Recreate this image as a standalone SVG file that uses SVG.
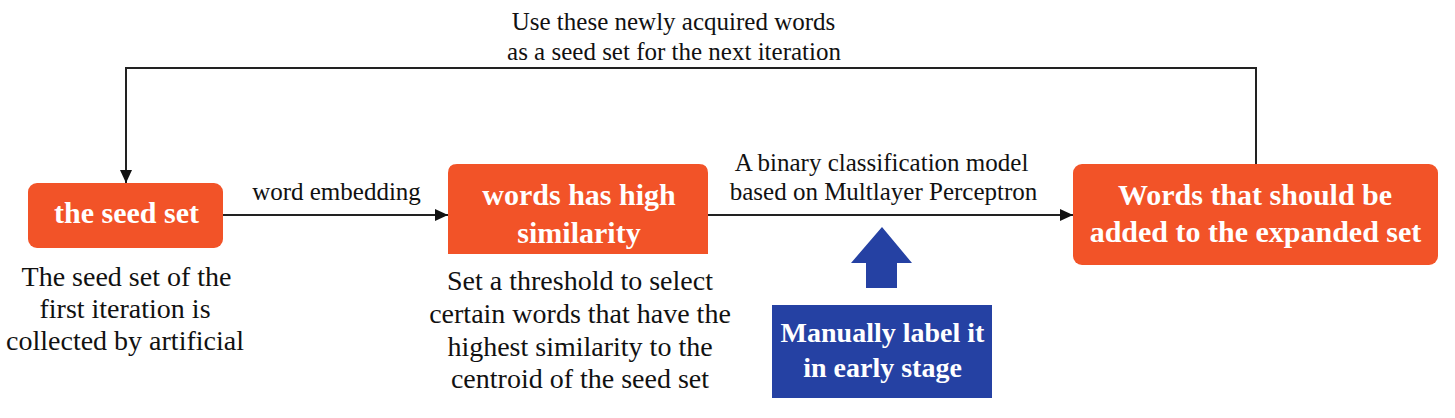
<svg xmlns="http://www.w3.org/2000/svg" width="1455" height="418" viewBox="0 0 1455 418">
<style>
.box{fill:#F25328}
.ln{fill:none;stroke:#222;stroke-width:2}
</style>
<defs>
<marker id="ah" markerWidth="13" markerHeight="12" refX="13" refY="6" orient="auto" markerUnits="userSpaceOnUse">
<path d="M0,0 L13,6 L0,12 Z" fill="#111"/>
</marker>
</defs>
<g id="connectors">
<path class="ln" d="M1256,164 V68 H126 V183" marker-end="url(#ah)"/>
<path class="ln" d="M223,215 H448" marker-end="url(#ah)"/>
<path class="ln" d="M708,215 H1073" marker-end="url(#ah)"/>
<g font-family="Liberation Serif, serif" fill="#111" text-anchor="middle" font-size="25">
<text x="673.5" y="30">Use these newly acquired words</text>
<text x="674" y="60">as a seed set for the next iteration</text>
<text x="336.5" y="200">word embedding</text>
<text x="881.5" y="171">A binary classification model</text>
<text x="883.5" y="200">based on Multlayer Perceptron</text>
</g>
</g>
<g id="seed">
<rect class="box" x="28" y="183" width="195" height="65" rx="9"/>
<text x="126.5" y="223" font-family="Liberation Serif, serif" font-weight="bold" fill="#fff" text-anchor="middle" font-size="30">the seed set</text>
<g font-family="Liberation Serif, serif" fill="#111" text-anchor="middle" font-size="28">
<text x="126.5" y="286">The seed set of the</text>
<text x="125" y="318">first iteration is</text>
<text x="125" y="350">collected by artificial</text>
</g>
</g>
<g id="similar">
<path class="box" d="M448,254 V173 Q448,164 457,164 H699 Q708,164 708,173 V254 Z"/>
<g font-family="Liberation Serif, serif" font-weight="bold" fill="#fff" text-anchor="middle" font-size="30">
<text x="579" y="205">words has high</text>
<text x="579" y="243">similarity</text>
</g>
<g font-family="Liberation Serif, serif" fill="#111" text-anchor="middle" font-size="28">
<text x="580" y="290">Set a threshold to select</text>
<text x="580" y="323">certain words that have the</text>
<text x="580" y="356">highest similarity to the</text>
<text x="580" y="388">centroid of the seed set</text>
</g>
</g>
<g id="added">
<rect class="box" x="1073" y="164" width="365" height="101" rx="9"/>
<g font-family="Liberation Serif, serif" font-weight="bold" fill="#fff" text-anchor="middle" font-size="30">
<text x="1255" y="205">Words that should be</text>
<text x="1255.5" y="242">added to the expanded set</text>
</g>
</g>
<g id="manual">
<path d="M882,227 L912,263 H897 V288 H866 V263 H851 Z" fill="#2541A3"/>
<rect x="772" y="305" width="220" height="93" fill="#2541A3"/>
<g font-family="Liberation Serif, serif" font-weight="bold" fill="#fff" text-anchor="middle" font-size="28">
<text x="882.5" y="342">Manually label it</text>
<text x="882.5" y="377">in early stage</text>
</g>
</g>
</svg>
